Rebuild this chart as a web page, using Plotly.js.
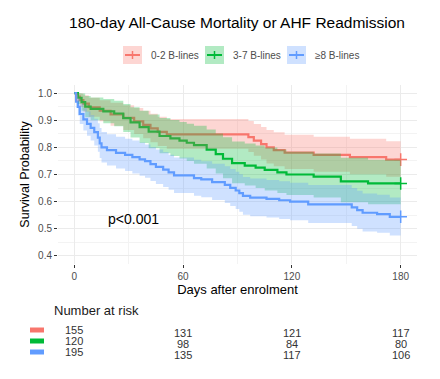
<!DOCTYPE html>
<html><head><meta charset="utf-8">
<script src="https://cdn.plot.ly/plotly-3.0.1.min.js"></script>
<style>html,body{margin:0;padding:0;background:#fff}#chart{width:440px;height:379px}</style>
</head><body><div id="chart"></div>
<script>
// ---- data ----
const groupNames = ["0-2 B-lines", "3-7 B-lines", "\u22658 B-lines"];
const groupColors = ["#F8766D", "#00BA38", "#619CFF"];
const groupFills = ["rgba(248,118,109,0.3)", "rgba(0,186,56,0.3)", "rgba(97,156,255,0.3)"];

const redTime  = [0,1,3,5,8,14,20,27,33,38,42,46,51,96,99,103,106,110,116,132,152,172];
const redSurv  = [1,0.987,0.974,0.961,0.948,0.935,0.922,0.909,0.896,0.883,0.870,0.857,0.848,0.838,0.825,0.812,0.800,0.790,0.781,0.772,0.764,0.755];
const redUpper = [1,1.000,0.999,0.992,0.983,0.974,0.965,0.955,0.945,0.935,0.924,0.913,0.905,0.897,0.886,0.875,0.864,0.856,0.847,0.839,0.832,0.823];
const redLower = [1,0.969,0.949,0.931,0.913,0.896,0.880,0.864,0.849,0.834,0.819,0.805,0.795,0.783,0.769,0.755,0.741,0.730,0.720,0.710,0.701,0.692];

const greenTime  = [0,2,4,6,9,16,22,27,31,36,41,47,53,58,62,66,73,78,82,87,94,100,105,112,117,132,147,162];
const greenSurv  = [1,0.983,0.967,0.950,0.942,0.933,0.925,0.908,0.892,0.875,0.858,0.842,0.833,0.825,0.817,0.808,0.792,0.775,0.758,0.742,0.733,0.725,0.717,0.708,0.700,0.692,0.675,0.667];
const greenUpper = [1,1.000,0.999,0.989,0.984,0.978,0.972,0.960,0.948,0.935,0.921,0.908,0.901,0.894,0.887,0.880,0.866,0.851,0.837,0.822,0.814,0.807,0.800,0.792,0.784,0.777,0.762,0.754];
const greenLower = [1,0.960,0.935,0.911,0.900,0.889,0.878,0.857,0.836,0.816,0.797,0.778,0.768,0.759,0.750,0.740,0.722,0.704,0.686,0.668,0.659,0.650,0.641,0.632,0.624,0.615,0.598,0.590];

const blueTime  = [0,1,2,3,5,7,9,11,13,14,15,18,23,28,32,36,39,42,45,49,52,55,66,70,76,83,86,89,91,93,97,106,113,119,129,153,156,159,167,174];
const blueSurv  = [1,0.969,0.949,0.923,0.903,0.887,0.872,0.856,0.836,0.815,0.800,0.790,0.780,0.772,0.764,0.756,0.749,0.738,0.728,0.718,0.708,0.697,0.687,0.682,0.672,0.662,0.651,0.641,0.631,0.621,0.615,0.610,0.605,0.600,0.590,0.579,0.569,0.559,0.554,0.544];
const blueUpper = [1,0.994,0.980,0.961,0.945,0.932,0.919,0.906,0.889,0.871,0.857,0.848,0.839,0.832,0.825,0.818,0.811,0.801,0.792,0.783,0.773,0.763,0.754,0.749,0.740,0.730,0.720,0.710,0.701,0.691,0.685,0.680,0.675,0.670,0.661,0.650,0.640,0.630,0.625,0.615];
const blueLower = [1,0.945,0.918,0.886,0.862,0.843,0.825,0.807,0.784,0.761,0.744,0.733,0.722,0.713,0.704,0.695,0.688,0.676,0.665,0.654,0.644,0.632,0.622,0.616,0.606,0.595,0.584,0.573,0.563,0.552,0.546,0.541,0.536,0.531,0.521,0.510,0.500,0.490,0.485,0.475];

const endTime = 180;
const riskTimes = [0, 60, 120, 180];
const riskRed   = [155, 131, 121, 117];
const riskGreen = [120, 98, 84, 80];
const riskBlue  = [195, 135, 117, 106];
const pText = "p<0.001";

// ---- build ----
const groups = [
  {t: redTime, s: redSurv, u: redUpper, l: redLower, risk: riskRed},
  {t: greenTime, s: greenSurv, u: greenUpper, l: greenLower, risk: riskGreen},
  {t: blueTime, s: blueSurv, u: blueUpper, l: blueLower, risk: riskBlue}
];
function ext(arr, last){ return arr.concat([last]); }

const traces = [];
groups.forEach((g, i) => {
  traces.push({x: ext(g.t, endTime), y: ext(g.s, g.s[g.s.length-1]), type: 'scatter', mode: 'lines',
    line: {shape: 'hv', color: groupColors[i], width: 2.2}, showlegend: false, hoverinfo: 'skip'});
  traces.push({x: [endTime], y: [g.s[g.s.length-1]], type: 'scatter', mode: 'markers',
    marker: {symbol: 'cross-thin-open', size: 9, line: {color: groupColors[i], width: 1.5}, color: groupColors[i]},
    showlegend: false, hoverinfo: 'skip'});
});
groups.forEach((g, i) => {
  traces.push({x: ext(g.t, endTime), y: ext(g.u, g.u[g.u.length-1]), type: 'scatter', mode: 'lines',
    line: {shape: 'hv', width: 0, color: 'rgba(0,0,0,0)'}, showlegend: false, hoverinfo: 'skip'});
  traces.push({x: ext(g.t, endTime), y: ext(g.l, g.l[g.l.length-1]), type: 'scatter', mode: 'lines',
    line: {shape: 'hv', width: 0, color: 'rgba(0,0,0,0)'}, fill: 'tonexty', fillcolor: groupFills[i],
    showlegend: false, hoverinfo: 'skip'});
});

// pixel helpers for the paper coordinates
const L = 58, T = 85, W = 359, H = 179;
const px = v => (v - L) / W;
const py = v => (T + H - v) / H;

const shapes = [];
const annotations = [];
// custom legend
const legX = [123, 205, 287];
const legTextX = [149, 231, 313];
groupNames.forEach((name, i) => {
  shapes.push({type: 'rect', xref: 'paper', yref: 'paper', x0: px(legX[i]), x1: px(legX[i] + 19), y0: py(46), y1: py(64),
    fillcolor: groupFills[i], line: {width: 0}, layer: 'above'});
  shapes.push({type: 'line', xref: 'paper', yref: 'paper', x0: px(legX[i] + 2), x1: px(legX[i] + 17), y0: py(55), y1: py(55),
    line: {color: groupColors[i], width: 2}});
  shapes.push({type: 'line', xref: 'paper', yref: 'paper', x0: px(legX[i] + 9.5), x1: px(legX[i] + 9.5), y0: py(51), y1: py(59),
    line: {color: groupColors[i], width: 1.5}});
  annotations.push({xref: 'paper', yref: 'paper', x: px(legTextX[i]), y: py(55), xanchor: 'left', yanchor: 'middle',
    text: name, showarrow: false, font: {size: 10, color: '#4D4D4D'}});
});
// p value
annotations.push({xref: 'x', yref: 'y', x: 32.5, y: 0.535, text: pText, showarrow: false,
  font: {size: 14, color: '#000'}, xanchor: 'center', yanchor: 'middle'});
// risk table
annotations.push({xref: 'paper', yref: 'paper', x: px(52), y: py(310), text: 'Number at risk', showarrow: false,
  xanchor: 'left', yanchor: 'middle', font: {size: 13, color: '#1a1a1a'}});
const rowY0 = [330, 341, 352];
const rowY1 = [333, 344, 355];
groups.forEach((g, i) => {
  shapes.push({type: 'rect', xref: 'paper', yref: 'paper', x0: px(30), x1: px(44), y0: py(rowY0[i] - 2.5), y1: py(rowY0[i] + 2.5),
    fillcolor: groupColors[i], line: {width: 0}});
  g.risk.forEach((n, k) => {
    annotations.push({xref: 'x', yref: 'paper', x: riskTimes[k], y: py(k === 0 ? rowY0[i] : rowY1[i]), text: String(n),
      showarrow: false, xanchor: 'center', yanchor: 'middle', font: {size: 11, color: '#333'}});
  });
});

const layout = {
  width: 440, height: 379,
  margin: {l: L, r: 440 - L - W, t: T, b: 379 - T - H, pad: 0},
  paper_bgcolor: '#fff', plot_bgcolor: '#fff',
  font: {family: 'Liberation Sans, Arial, sans-serif', color: '#000'},
  title: {text: '180-day All-Cause Mortality or AHF Readmission', x: 237/440, xanchor: 'center',
    y: 1 - 23/379, yanchor: 'middle', font: {size: 15.5, color: '#000'}},
  showlegend: false,
  xaxis: {range: [-9, 189], tickmode: 'array', tickvals: riskTimes, ticktext: riskTimes.map(String),
    showgrid: true, gridcolor: '#EBEBEB', gridwidth: 1, zeroline: false, showline: false,
    ticks: 'outside', ticklen: 3, tickcolor: '#333', tickwidth: 1,
    minor: {tickvals: [30, 90, 150], showgrid: true, gridcolor: '#F3F3F3', gridwidth: 1, ticks: ''},
    tickfont: {size: 10, color: '#4D4D4D'},
    title: {text: 'Days after enrolment', font: {size: 13, color: '#000'}, standoff: 3}, automargin: false, fixedrange: true},
  yaxis: {range: [0.37, 1.03], tickmode: 'array', tickvals: [0.4,0.5,0.6,0.7,0.8,0.9,1.0],
    ticktext: ['0.4','0.5','0.6','0.7','0.8','0.9','1.0'],
    showgrid: true, gridcolor: '#EBEBEB', gridwidth: 1, zeroline: false, showline: false,
    ticks: 'outside', ticklen: 3, tickcolor: '#333', tickwidth: 1,
    minor: {tickvals: [0.45,0.55,0.65,0.75,0.85,0.95], showgrid: true, gridcolor: '#F3F3F3', gridwidth: 1, ticks: ''},
    tickfont: {size: 10, color: '#4D4D4D'},
    title: {text: 'Survival Probability', font: {size: 12.5, color: '#000'}, standoff: 5}, automargin: false, fixedrange: true},
  shapes: shapes, annotations: annotations
};

Plotly.newPlot('chart', traces, layout, {displayModeBar: false, staticPlot: true});
</script></body></html>
